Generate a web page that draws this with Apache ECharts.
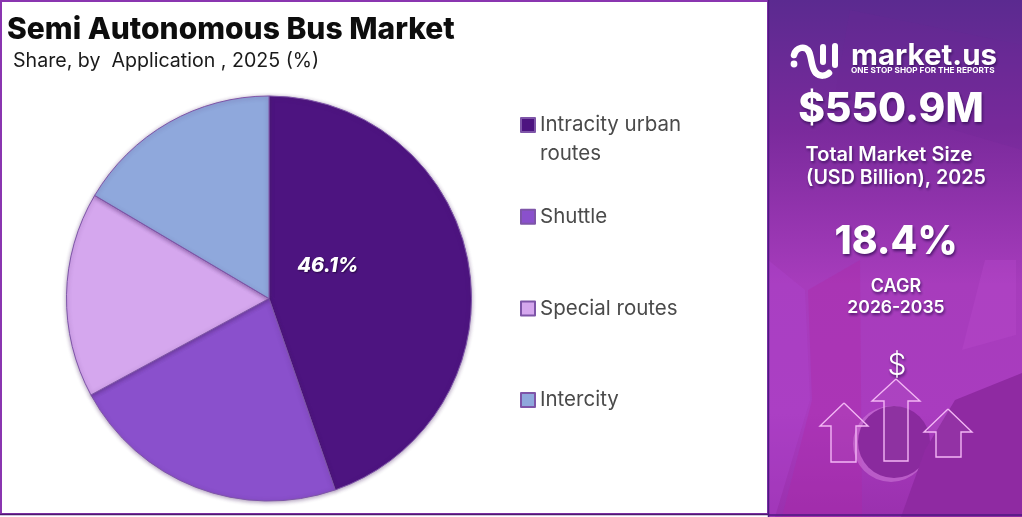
<!DOCTYPE html>
<html>
<head>
<meta charset="utf-8">
<title>Semi Autonomous Bus Market</title>
<script src="https://cdn.jsdelivr.net/npm/echarts@6/dist/echarts.min.js"></script>
<style>
  html, body { margin: 0; padding: 0; background: #fff; }
  #chart { width: 1022px; height: 517px; }
</style>
</head>
<body>
<div id="chart"></div>
<script>
var categories = ['Intracity urban routes', 'Shuttle', 'Special routes', 'Intercity'];
var shares = [44.7, 22.4, 16.4, 16.5];
var sliceLabels = ['46.1%', '', '', ''];
var colors = ['#4d1480', '#8a50cc', '#d5a7ee', '#8fa8dc'];

var font = 'Inter, "Open Sans", sans-serif';

function arrow(tip, wingY, wingL, wingR, stemL, stemR, bottom) {
  return {
    type: 'polyline',
    shape: { points: [[tip, wingY[0]], [wingR, wingY[1]], [stemR, wingY[1]], [stemR, bottom], [stemL, bottom], [stemL, wingY[1]], [wingL, wingY[1]], [tip, wingY[0]]] },
    style: { stroke: '#f3b6f5', lineWidth: 1.4, fill: 'rgba(255,255,255,0.04)' }
  };
}

function panelText(text, x, y, size, weight, align) {
  return {
    type: 'text',
    x: x,
    y: y,
    style: {
      text: text,
      fill: '#fff',
      font: weight + ' ' + size + 'px ' + font,
      align: align || 'center',
      verticalAlign: 'middle',
      textShadowColor: 'rgba(45,10,80,0.75)',
      textShadowBlur: 3,
      textShadowOffsetX: 1,
      textShadowOffsetY: 2
    }
  };
}

function logoCurve(x1, y1, cx1, cy1, cx2, cy2, x2, y2) {
  return {
    type: 'bezierCurve',
    shape: { x1: x1, y1: y1, cpx1: cx1, cpy1: cy1, cpx2: cx2, cpy2: cy2, x2: x2, y2: y2 },
    style: { stroke: '#fff', lineWidth: 6.5, fill: 'none', lineCap: 'round' }
  };
}

var panel = [
  // frame of the white part
  { type: 'rect', shape: { x: 1, y: 1, width: 767, height: 513 }, style: { fill: 'none', stroke: '#8a35b0', lineWidth: 2 } },
  { type: 'line', shape: { x1: 0, y1: 514.5, x2: 768, y2: 514.5 }, style: { stroke: '#4d1a70', lineWidth: 1.5 } },
  // right side background
  {
    type: 'rect',
    shape: { x: 768, y: 0, width: 254, height: 517 },
    style: {
      fill: {
        type: 'linear', x: 0, y: 0, x2: 0, y2: 1,
        colorStops: [
          { offset: 0, color: '#5b2a90' },
          { offset: 0.25, color: '#7a2a9c' },
          { offset: 0.55, color: '#a73cbc' },
          { offset: 0.8, color: '#a93cbf' },
          { offset: 1, color: '#9a30ae' }
        ]
      }
    }
  },
  { type: 'polygon', shape: { points: [[850, 10], [1022, 45], [1022, 150], [835, 95]] }, style: { fill: 'rgba(110,40,150,0.2)' } },
  { type: 'polygon', shape: { points: [[985, 260], [1016, 260], [1016, 335], [962, 350]] }, style: { fill: 'rgba(190,80,210,0.25)' } },
  { type: 'polygon', shape: { points: [[768, 260], [805, 290], [810, 400], [775, 517], [768, 517]] }, style: { fill: 'rgba(175,70,205,0.35)' } },
  { type: 'polygon', shape: { points: [[808, 290], [860, 260], [862, 517], [782, 517], [812, 400]] }, style: { fill: 'rgba(175,40,165,0.35)' } },
  { type: 'circle', shape: { cx: 891, cy: 444, r: 38 }, style: { fill: 'rgba(225,150,230,0.4)' } },
  { type: 'circle', shape: { cx: 894, cy: 442, r: 36 }, style: { fill: '#8a2a9e' } },
  { type: 'polygon', shape: { points: [[901, 517], [925, 450], [955, 400], [1022, 373], [1022, 517]] }, style: { fill: '#8f2aa2' } },
  { type: 'line', shape: { x1: 768.5, y1: 0, x2: 768.5, y2: 517 }, style: { stroke: '#4d1a80', lineWidth: 1.5 } },
  { type: 'line', shape: { x1: 768, y1: 515, x2: 1022, y2: 515 }, style: { stroke: '#4d1a80', lineWidth: 1.5 } },
  // logo
  { type: 'circle', shape: { cx: 794, cy: 64, r: 3.4 }, style: { fill: '#fff' } },
  logoCurve(794, 55, 796, 47, 806, 45, 809, 52),
  logoCurve(809, 52, 812, 58, 811, 68, 816, 73),
  logoCurve(816, 73, 820, 77, 826, 76, 829, 73),
  { type: 'line', shape: { x1: 823, y1: 47, x2: 823, y2: 62 }, style: { stroke: '#fff', lineWidth: 6, lineCap: 'round' } },
  { type: 'line', shape: { x1: 835, y1: 46, x2: 835, y2: 65 }, style: { stroke: '#fff', lineWidth: 6, lineCap: 'round' } },
  panelText('market.us', 851, 56, 29.5, 700, 'left'),
  {
    type: 'text', x: 851, y: 71,
    style: { text: 'ONE STOP SHOP FOR THE REPORTS', fill: '#fff', font: '700 8.2px ' + font, align: 'left', verticalAlign: 'middle' }
  },
  panelText('$550.9M', 891, 110, 40.6, 800),
  panelText('Total Market Size', 889, 155, 20, 600),
  panelText('(USD Billion), 2025', 896, 178, 19.7, 600),
  panelText('18.4%', 896, 242, 39, 800),
  panelText('CAGR', 896, 287, 18, 600),
  panelText('2026-2035', 896, 308, 17.6, 600),
  panelText('$', 897, 366, 30, 300),
  arrow(844, [403, 426], 820, 868, 831, 856, 462),
  arrow(896, [379, 401], 872, 920, 884, 908, 461),
  arrow(948, [409, 432], 924, 972, 936, 961, 457),
  // second line of the first legend entry
  {
    type: 'text', x: 540, y: 154,
    style: { text: 'routes', fill: '#4a4a4a', font: '400 20.5px ' + font, align: 'left', verticalAlign: 'middle' }
  }
];

var pieData = categories.map(function(name, i) {
  return {
    name: name,
    value: shares[i],
    itemStyle: { color: colors[i] },
    label: { show: !!sliceLabels[i], formatter: sliceLabels[i] }
  };
});

var chart = echarts.init(document.getElementById('chart'), null, { renderer: 'canvas' });
chart.setOption({
  animation: false,
  backgroundColor: '#fff',
  title: [{
    text: 'Semi Autonomous Bus Market',
    left: 7,
    top: 15,
    padding: 0,
    textStyle: { fontFamily: font, fontSize: 30, fontWeight: 800, color: '#0d0d0d' }
  }, {
    text: 'Share, by  Application , 2025 (%)',
    left: 13,
    top: 51,
    padding: 0,
    textStyle: { fontFamily: font, fontSize: 19.6, fontWeight: 400, color: '#1a1a1a' }
  }],
  legend: {
    orient: 'vertical',
    left: 520,
    top: 114.5,
    padding: 0,
    itemWidth: 14,
    itemHeight: 14,
    itemGap: 70.7,
    icon: 'rect',
    selectedMode: false,
    data: categories,
    formatter: function(name) {
      return name === categories[0] ? 'Intracity urban' : name;
    },
    textStyle: { fontFamily: font, fontSize: 20.5, color: '#4a4a4a', padding: 0 }
  },
  series: [{
    type: 'pie',
    center: [269, 298.5],
    radius: [0, 202.5],
    startAngle: 90,
    clockwise: true,
    silent: true,
    itemStyle: {
      borderColor: '#7e55a8',
      borderWidth: 1,
      shadowColor: 'rgba(70,30,100,0.45)',
      shadowBlur: 4,
      shadowOffsetY: 1
    },
    label: {
      position: 'inside',
      offset: [-44, -15],
      color: '#fff',
      fontFamily: font,
      fontSize: 20,
      fontWeight: 800,
      fontStyle: 'italic',
      textShadowColor: 'rgba(20,0,40,0.7)',
      textShadowBlur: 2,
      textShadowOffsetX: 1,
      textShadowOffsetY: 1
    },
    labelLine: { show: false },
    data: pieData
  }],
  graphic: panel
});
</script>
</body>
</html>
